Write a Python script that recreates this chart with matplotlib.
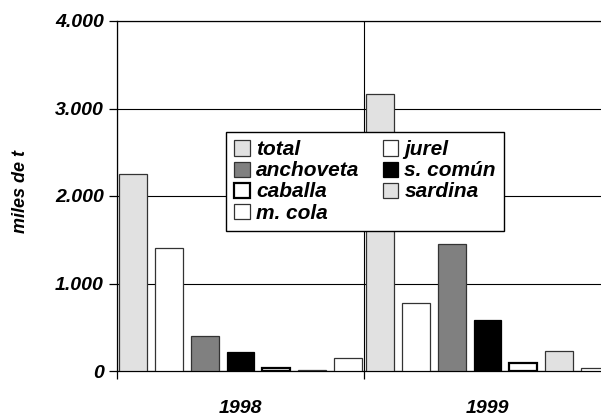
import matplotlib
matplotlib.use("Agg")
import matplotlib.pyplot as plt
import numpy as np
from matplotlib.patches import Patch

years = ["1998", "1999"]
species = ["total", "jurel", "anchoveta", "s. común", "caballa", "sardina", "m. cola"]
values_1998 = [2250, 1405, 400, 220, 35, 12, 150]
values_1999 = [3165, 776, 1446, 578, 91, 225, 31]
yticks = [0, 1000, 2000, 3000, 4000]
ytick_labels = ["0", "1.000", "2.000", "3.000", "4.000"]

colors = ["#e1e1e1", "#ffffff", "#808080", "#000000", "#ffffff", "#e1e1e1", "#ffffff"]
edges = ["#333333", "#333333", "#333333", "#000000", "#000000", "#333333", "#333333"]
lws = [0.9, 0.9, 0.9, 0.9, 1.6, 0.9, 0.9]

plt.rcParams["font.family"] = ["Liberation Sans", "DejaVu Sans"]
plt.rcParams["font.weight"] = "bold"
plt.rcParams["font.style"] = "italic"
FS = 14
LFS = 15

W, H = 601, 417
fig = plt.figure(figsize=(W / 100, H / 100), dpi=100)
ax = fig.add_axes([117 / W, 1 - 371 / H, 494 / W, 350 / H])

data = np.array([values_1998, values_1999])
x = np.arange(len(years))
pitch = 0.145
width = 0.113
for j, sp in enumerate(species):
    ax.bar(x + (j - 3) * pitch, data[:, j], width=width, color=colors[j],
           edgecolor=edges[j], linewidth=lws[j], zorder=3, label=sp)

ax.set_xlim(-0.5, 1.5)
ax.set_ylim(0, 4000)
ax.set_yticks(yticks)
ax.set_yticklabels(ytick_labels)
ax.set_xticks([-0.5, 0.5, 1.5])
ax.set_xticklabels(["", "", ""])
ax.set_xticks(x, minor=True)
ax.set_xticklabels(years, minor=True)
ax.tick_params(axis="x", which="minor", length=0, pad=21, labelsize=FS)
ax.tick_params(axis="x", which="major", length=6, width=0.9, direction="out", color="black")
ax.tick_params(axis="y", length=6, width=0.9, direction="out", pad=3.5, labelsize=FS, color="black")

ax.grid(True, axis="y", color="black", linewidth=0.8, zorder=1)
ax.grid(True, axis="x", which="major", color="black", linewidth=0.8, zorder=1)
ax.set_axisbelow(True)
for s in ["left", "bottom", "top"]:
    ax.spines[s].set_linewidth(0.9)
    ax.spines[s].set_color("black")
ax.spines["right"].set_visible(False)

fig.text(21 / W, 1 - 191 / H, "miles de t", rotation=90, ha="center", va="center",
         fontsize=13)

handles = [Patch(facecolor=colors[j], edgecolor=edges[j], linewidth=lws[j]) for j in range(7)]
order = [0, 2, 4, 6, 1, 3, 5]
leg = ax.legend([handles[i] for i in order], [species[i] for i in order], ncol=2,
                loc="upper left", bbox_to_anchor=(226 / W, 1 - 132 / H),
                bbox_transform=fig.transFigure, borderaxespad=0,
                fontsize=LFS, handlelength=0.75, handleheight=0.75,
                handletextpad=0.3, columnspacing=1.1, labelspacing=0.1,
                borderpad=0.4, fancybox=False, framealpha=1, edgecolor="black")
leg.get_frame().set_linewidth(1.0)
leg.set_zorder(5)

fig.savefig("out.png", dpi=100)
